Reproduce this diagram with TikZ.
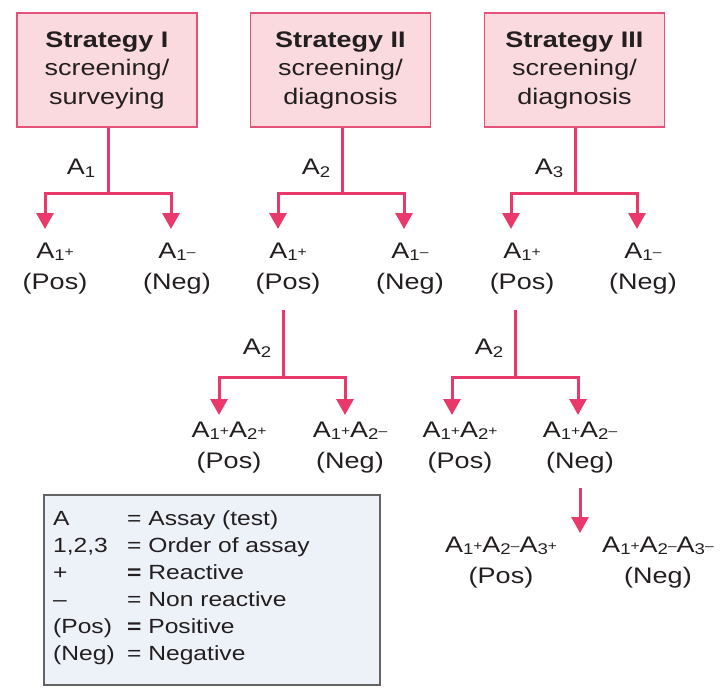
\documentclass[tikz,border=0pt]{standalone}
\usepackage{fontspec}
\setmainfont{Liberation Sans}[FakeStretch=1.2]
\usetikzlibrary{arrows.meta}
\definecolor{pk}{RGB}{233,56,106}
\definecolor{pkb}{RGB}{228,82,122}
\definecolor{pkf}{RGB}{250,218,223}
\definecolor{lgf}{RGB}{237,241,248}
\definecolor{lgb}{RGB}{100,100,100}
\definecolor{txt}{RGB}{35,31,32}
\newcommand{\sbs}[1]{\raisebox{-2pt}{\fontsize{15.5}{15.5}\selectfont #1}}
\newcommand{\lsb}[1]{\raisebox{-3pt}{\fontsize{15.5}{15.5}\selectfont #1}}
\newcommand{\sgn}[1]{\raisebox{2pt}{\fontsize{13}{13}\selectfont #1}}
\begin{document}
\begin{tikzpicture}[x=1pt,y=-1pt,
  stratbox/.style={draw=pkb, fill=pkf, line width=1.5pt, minimum width=180pt,
    minimum height=114pt, inner sep=0pt, align=center,
    font=\fontsize{22.5}{28.5}\selectfont, text=txt},
  leaf/.style={align=center, inner sep=0pt, outer sep=0pt,
    font=\fontsize{22.5}{31}\selectfont, text=txt},
  conn/.style={draw=pk, line width=3pt},
  arr/.style={conn, -{Triangle[width=17pt,length=16pt]}},
  lbl/.style={anchor=base, inner sep=0pt, font=\fontsize{22.5}{27}\selectfont, text=txt},
  legrow/.style={anchor=base west, inner sep=0pt, font=\fontsize{20.5}{27}\selectfont, text=txt},
  legbox/.style={draw=lgb, fill=lgf, line width=1.5pt, minimum width=336pt,
    minimum height=190pt, inner sep=0pt}
]
\useasboundingbox (0,0) rectangle (726,696);

% strategy boxes
\node[stratbox] (b1) at (107,70) {\textbf{Strategy I}\\screening/\\surveying};
\node[stratbox] (b2) at (340.5,70) {\textbf{Strategy II}\\screening/\\diagnosis};
\node[stratbox] (b3) at (574.5,70) {\textbf{Strategy III}\\screening/\\diagnosis};

% junctions and arrow tips, level 1
\coordinate (j1) at (108,193);
\coordinate (j2) at (342,193);
\coordinate (j3) at (575,193);
\coordinate (t11) at (45,229);
\coordinate (t12) at (171,229);
\coordinate (t21) at (278,229);
\coordinate (t22) at (404,229);
\coordinate (t31) at (511,229);
\coordinate (t32) at (637,229);

% level 1 labels
\node[lbl] (a1) at (81,174) {A\lsb{1}};
\node[lbl] (a2) at (316,174) {A\lsb{2}};
\node[lbl] (a3) at (549,174) {A\lsb{3}};

% level 1 leaves
\node[leaf] (p11) at (55,269) {A\sbs{1}\sgn{+}\\(Pos)};
\node[leaf] (n11) at (177,269) {A\sbs{1}\sgn{–}\\(Neg)};
\node[leaf] (p21) at (288,269) {A\sbs{1}\sgn{+}\\(Pos)};
\node[leaf] (n21) at (410,269) {A\sbs{1}\sgn{–}\\(Neg)};
\node[leaf] (p31) at (522,269) {A\sbs{1}\sgn{+}\\(Pos)};
\node[leaf] (n31) at (643,269) {A\sbs{1}\sgn{–}\\(Neg)};

\draw[conn] (b1.south -| j1) -- (j1);
\draw[arr] (j1) -| (t11);
\draw[arr] (j1) -| (t12);
\draw[conn] (b2.south -| j2) -- (j2);
\draw[arr] (j2) -| (t21);
\draw[arr] (j2) -| (t22);
\draw[conn] (b3.south -| j3) -- (j3);
\draw[arr] (j3) -| (t31);
\draw[arr] (j3) -| (t32);

% level 2
\coordinate (jA) at (283,377);
\coordinate (jB) at (515,377);
\coordinate (tA1) at (219,415);
\coordinate (tA2) at (345,415);
\coordinate (tB1) at (452,415);
\coordinate (tB2) at (578,415);

\node[lbl] (a2l) at (257,354) {A\lsb{2}};
\node[lbl] (a2r) at (489,354) {A\lsb{2}};

\draw[conn, shorten <=15pt] (p21.south -| jA) -- (jA);
\draw[arr] (jA) -| (tA1);
\draw[arr] (jA) -| (tA2);
\draw[conn, shorten <=15pt] (p31.south -| jB) -- (jB);
\draw[arr] (jB) -| (tB1);
\draw[arr] (jB) -| (tB2);

\node[leaf] (pA) at (229,448) {A\sbs{1}\sgn{+}A\sbs{2}\sgn{+}\\(Pos)};
\node[leaf] (nA) at (350,448) {A\sbs{1}\sgn{+}A\sbs{2}\sgn{–}\\(Neg)};
\node[leaf] (pB) at (460,448) {A\sbs{1}\sgn{+}A\sbs{2}\sgn{+}\\(Pos)};
\node[leaf] (nB) at (580,448) {A\sbs{1}\sgn{+}A\sbs{2}\sgn{–}\\(Neg)};

% level 3
\coordinate (t3) at (580,533);
\draw[arr, shorten <=14pt] (nB.south) -- (t3);

\node[leaf] (pC) at (501,563) {A\sbs{1}\sgn{+}A\sbs{2}\sgn{–}A\sbs{3}\sgn{+}\\(Pos)};
\node[leaf] (nC) at (658,563) {A\sbs{1}\sgn{+}A\sbs{2}\sgn{–}A\sbs{3}\sgn{–}\\(Neg)};

% legend
\node[legbox] (legend) at (212,590) {};
\node[legrow] (lg1) at (53,525) {\makebox[74pt][l]{A}= Assay (test)};
\node[legrow] (lg2) at (53,552) {\makebox[74pt][l]{1,2,3}= Order of assay};
\node[legrow] (lg3) at (53,579) {\makebox[74pt][l]{+}\textbf{=} Reactive};
\node[legrow] (lg4) at (53,606) {\makebox[74pt][l]{–}= Non reactive};
\node[legrow] (lg5) at (53,633) {\makebox[74pt][l]{(Pos)}\textbf{=} Positive};
\node[legrow] (lg6) at (53,660) {\makebox[74pt][l]{(Neg)}= Negative};
\end{tikzpicture}
\end{document}
